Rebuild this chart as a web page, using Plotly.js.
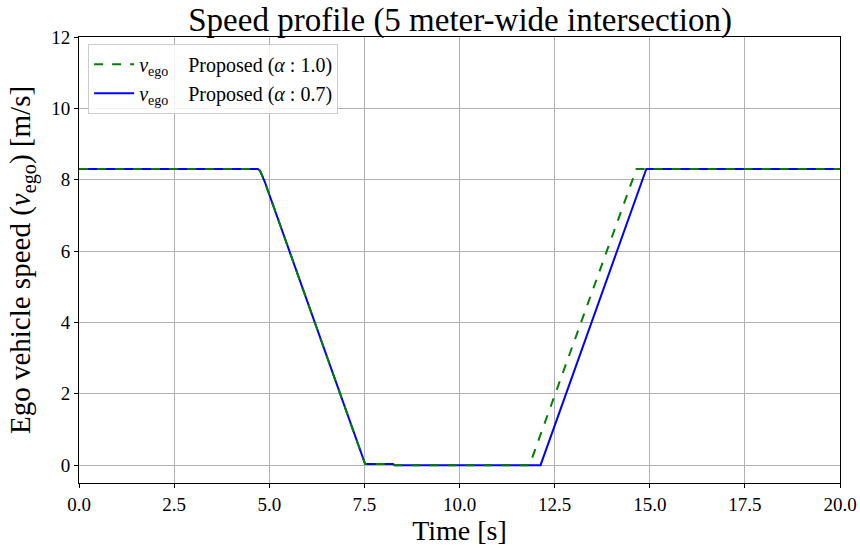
<!DOCTYPE html>
<html>
<head>
<meta charset="utf-8">
<script src="https://cdn.plot.ly/plotly-3.0.1.min.js"></script>
<style>html,body{margin:0;padding:0;background:#fff;}#chart{width:860px;height:550px;}</style>
</head>
<body>
<div id="chart"></div>
<script>
// Data
var timeAlpha10  = [0, 4.70, 4.76, 4.82, 4.88, 7.52, 8.25, 8.30, 11.84, 14.65, 14.75, 20.0];
var speedAlpha10 = [8.3, 8.3, 8.25, 8.12, 7.95, 0.03, 0.03, 0.0, 0.0, 8.3, 8.3, 8.3];
var timeAlpha07  = [0, 4.70, 4.76, 4.82, 4.88, 7.52, 8.25, 8.30, 12.13, 14.91, 20.0];
var speedAlpha07 = [8.3, 8.3, 8.25, 8.12, 7.95, 0.03, 0.03, 0.0, 0.0, 8.3, 8.3];
var seriesNames = ['<i>v</i><sub>ego</sub>\u00a0\u00a0\u00a0\u00a0Proposed (<i>α</i>\u00a0:\u00a01.0)',
                   '<i>v</i><sub>ego</sub>\u00a0\u00a0\u00a0\u00a0Proposed (<i>α</i>\u00a0:\u00a00.7)'];
var xTicks = [0, 2.5, 5, 7.5, 10, 12.5, 15, 17.5, 20];
var xTickLabels = ['0.0', '2.5', '5.0', '7.5', '10.0', '12.5', '15.0', '17.5', '20.0'];
var yTicks = [0, 2, 4, 6, 8, 10, 12];

var FONT = 'Liberation Serif, DejaVu Serif, serif';

// blue drawn first so the dashed green line lies on top; legend reversed
var traces = [
  {x: timeAlpha07, y: speedAlpha07, mode: 'lines', name: seriesNames[1],
   line: {color: '#0000ff', width: 2}},
  {x: timeAlpha10, y: speedAlpha10, mode: 'lines', name: seriesNames[0],
   line: {color: '#008000', width: 2, dash: 'dash'}}
];

var layout = {
  width: 860, height: 550,
  margin: {l: 79, r: 20, t: 37, b: 67, pad: 0},
  paper_bgcolor: '#fff', plot_bgcolor: '#fff',
  font: {family: FONT, color: '#000', size: 17},
  title: {text: 'Speed profile (5 meter-wide intersection)', font: {family: FONT, size: 33, color: '#000'},
          x: 0.535, xanchor: 'center', yref: 'container', y: 0.985, yanchor: 'top'},
  xaxis: {
    range: [0, 20], tickvals: xTicks, ticktext: xTickLabels,
    showgrid: true, gridcolor: '#b0b0b0', gridwidth: 1,
    zeroline: false, showline: true, linecolor: '#000', linewidth: 1, mirror: true,
    ticks: 'outside', ticklen: 4, tickcolor: '#000',
    tickfont: {family: FONT, size: 19},
    title: {text: 'Time [s]', font: {family: FONT, size: 28}, standoff: 6}
  },
  yaxis: {
    range: [-0.5, 12], tickvals: yTicks,
    showgrid: true, gridcolor: '#b0b0b0', gridwidth: 1,
    zeroline: false, showline: true, linecolor: '#000', linewidth: 1, mirror: true,
    ticks: 'outside', ticklen: 4, tickcolor: '#000',
    tickfont: {family: FONT, size: 19},
    title: {text: 'Ego vehicle speed (<i>v</i><sub>ego</sub>) [m/s]', font: {family: FONT, size: 29}, standoff: 12}
  },
  showlegend: true,
  legend: {
    x: 0.012, y: 0.985, xanchor: 'left', yanchor: 'top', traceorder: 'reversed',
    bgcolor: 'rgba(255,255,255,0.85)', bordercolor: '#cccccc', borderwidth: 1,
    font: {family: FONT, size: 20}, tracegroupgap: 0, itemwidth: 40
  }
};

Plotly.newPlot('chart', traces, layout, {displayModeBar: false, staticPlot: true});
</script>
</body>
</html>
